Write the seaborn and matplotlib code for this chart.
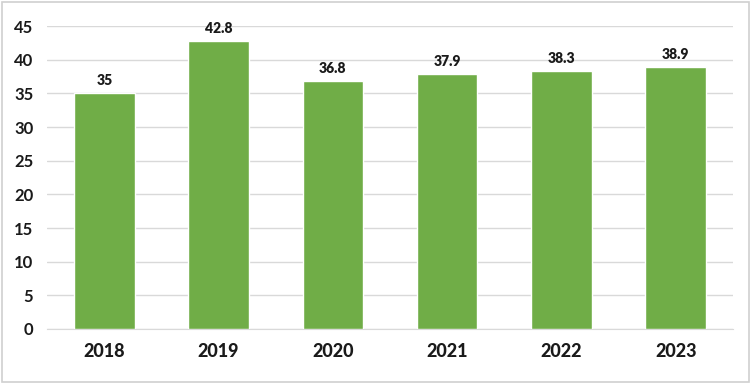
import matplotlib
matplotlib.use("Agg")
import matplotlib.pyplot as plt
import pandas as pd
import seaborn as sns

years = ["2018", "2019", "2020", "2021", "2022", "2023"]
values = [35, 42.8, 36.8, 37.9, 38.3, 38.9]
value_labels = ["35", "42.8", "36.8", "37.9", "38.3", "38.9"]
y_ticks = [0, 5, 10, 15, 20, 25, 30, 35, 40, 45]

sns.set_style("white")
plt.rcParams["font.family"] = ["Lato", "DejaVu Sans"]

df = pd.DataFrame({"year": years, "value": values})

fig = plt.figure(figsize=(7.5, 3.83), dpi=100)
ax = fig.add_axes([0.063, 0.141, 0.914, 0.791])

sns.barplot(data=df, x="year", y="value", color="#70AD47", saturation=1,
            width=0.53, ax=ax, zorder=3)

for i, (v, lab) in enumerate(zip(values, value_labels)):
    ax.text(i, v + 0.9, lab, ha="center", va="bottom", fontsize=10,
            fontweight="heavy", color="#1a1a1a")

ax.set_ylim(0, 45)
ax.set_yticks(y_ticks, [str(t) for t in y_ticks], fontweight="bold",
              fontsize=12, color="#1a1a1a")
ax.set_xticks(range(len(years)), years, fontweight="black", fontsize=13,
              color="#1a1a1a")
ax.grid(axis="y", color="#d9d9d9", linewidth=1, zorder=0)
ax.set_xlabel("")
ax.set_ylabel("")
for side in ["top", "right", "left"]:
    ax.spines[side].set_visible(False)
ax.spines["bottom"].set_color("#d9d9d9")
ax.tick_params(axis="both", length=0)
ax.tick_params(axis="y", pad=10)
ax.tick_params(axis="x", pad=10)

fig.patches.append(plt.Rectangle((0.002, 0.003), 0.996, 0.993, transform=fig.transFigure,
                                 fill=False, edgecolor="#d0d0d0", linewidth=1.2))

fig.savefig("out.png", dpi=100)
